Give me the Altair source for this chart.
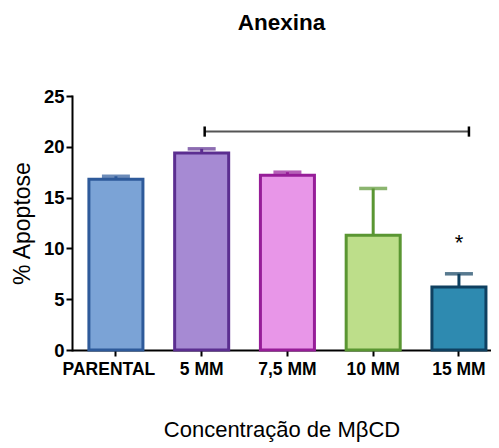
import altair as alt
import pandas as pd

categories = ["PARENTAL", "5 MM", "7,5 MM", "10 MM", "15 MM"]
means = [16.8, 19.4, 17.2, 11.3, 6.2]
uppers = [17.1, 19.8, 17.5, 15.9, 7.5]
fills = ["#7BA3D6", "#A68AD3", "#E896E8", "#BDDE8A", "#2E8AB0"]
strokes = ["#2E5A9A", "#5B2E90", "#961D98", "#5A9632", "#0F4060"]

bracket_y = 21.5
bracket_from = "5 MM"
bracket_to = "15 MM"
star_cat = "15 MM"
star_y = 10.5

df = pd.DataFrame({"cat": categories, "mean": means, "upper": uppers,
                   "fill": fills, "stroke": strokes})

FONT = "Liberation Sans"

xscale = alt.Scale(domain=categories, paddingInner=0.37, paddingOuter=0.128, align=0.77)
xaxis = alt.Axis(title="Concentração de MβCD", labelAngle=0,
                 labelOffset={"condition": {"test": "datum.value == 'PARENTAL'", "value": -7}, "value": 0},
                 labelFontWeight="bold", labelFontSize=17.5,
                 labelPadding=4, titlePadding=42, titleFontSize=22,
                 titleFontWeight="normal")
x = alt.X("cat:N", sort=None, scale=xscale, axis=xaxis)
yaxis = alt.Axis(title="% Apoptose", values=[0, 5, 10, 15, 20, 25],
                 labelFontWeight="bold", labelFontSize=18.5,
                 labelPadding=2, titlePadding=9, titleFontSize=23,
                 titleFontWeight="normal", grid=False)
yscale = alt.Scale(domain=[0, 25], nice=False)
y = alt.Y("mean:Q", scale=yscale, axis=yaxis)

base = alt.Chart(df)

errs = base.mark_rule(strokeWidth=3).encode(
    x=x, y=y, y2="upper:Q",
    color=alt.Color("stroke:N", scale=None))
caps = base.mark_tick(thickness=3.5, size=28).encode(
    x=x, y=alt.Y("upper:Q", scale=yscale, axis=yaxis),
    color=alt.Color("stroke:N", scale=None))
bars = base.mark_bar(strokeWidth=3).encode(
    x=x, y=y,
    fill=alt.Fill("fill:N", scale=None),
    stroke=alt.Stroke("stroke:N", scale=None))

bdf = pd.DataFrame({"cat": [bracket_from], "b": [bracket_to], "y": [bracket_y]})
bline = alt.Chart(bdf).mark_rule(color="#555555", strokeWidth=2, xOffset=3, x2Offset=10).encode(
    x=x, x2="b:N", y=alt.Y("y:Q", scale=yscale, axis=yaxis))
bl = alt.Chart(bdf).transform_calculate(
    ylo="datum.y - 0.5", yy="datum.y + 0.5").mark_rule(
    color="black", strokeWidth=2.5, xOffset=3).encode(
    x=x, y=alt.Y("yy:Q", scale=yscale, axis=yaxis), y2="ylo:Q")
br = alt.Chart(bdf).transform_calculate(
    ylo="datum.y - 0.5", yy="datum.y + 0.5", cat="datum.b").mark_rule(
    color="black", strokeWidth=2.5, xOffset=10).encode(
    x=x, y=alt.Y("yy:Q", scale=yscale, axis=yaxis), y2="ylo:Q")

sdf = pd.DataFrame({"cat": [star_cat], "y": [star_y], "t": ["*"]})
star = alt.Chart(sdf).mark_text(fontSize=22, font=FONT, baseline="middle").encode(
    x=x, y=alt.Y("y:Q", scale=yscale, axis=yaxis), text="t:N")

chart = alt.layer(errs, caps, bars, bline, bl, br, star).properties(
    width=419, height=254,
    title=alt.TitleParams("Anexina", fontSize=22.5, fontWeight="bold", font=FONT,
                          anchor="middle", offset=53, color="black"),
    autosize=alt.AutoSizeParams(type="none"),
    padding={"left": 64, "top": 88, "right": 0, "bottom": 94},
).configure_view(stroke=None).configure_axis(
    domainColor="black", domainWidth=2, tickColor="black", tickWidth=2, tickSize=6,
    labelColor="black", titleColor="black", labelFont=FONT, titleFont=FONT
).configure_axisY(domainCap="square")

chart.save("out.html", embed_options={"renderer": "svg", "actions": False})
